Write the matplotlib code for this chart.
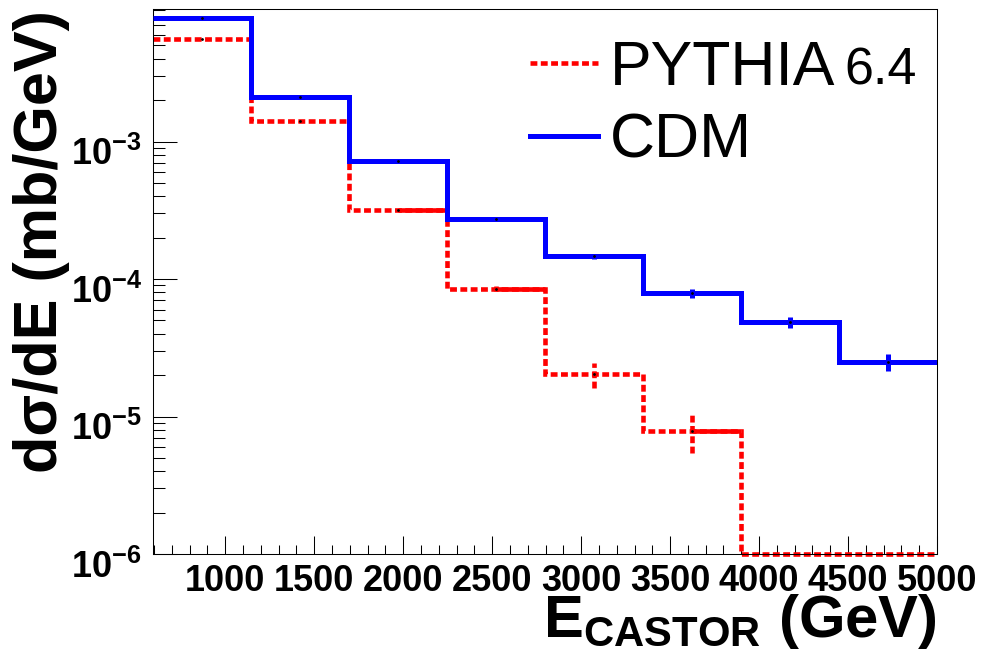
import numpy as np
import matplotlib
matplotlib.use('Agg')
import matplotlib.pyplot as plt
from matplotlib.ticker import MultipleLocator, LogLocator, FuncFormatter, NullFormatter
from matplotlib.transforms import ScaledTranslation

plt.rcParams['font.family'] = 'Liberation Sans'
plt.rcParams['mathtext.fontset'] = 'custom'
plt.rcParams['mathtext.rm'] = 'Liberation Sans'
plt.rcParams['mathtext.bf'] = 'Liberation Sans:bold'
plt.rcParams['mathtext.it'] = 'Liberation Sans:italic'

# energy bins (GeV) and dsigma/dE (mb/GeV) per bin
bin_edges = [594, 1145, 1695, 2246, 2797, 3348, 3898, 4449, 5000]
pythia = [5.56e-3, 1.40e-3, 3.19e-4, 8.48e-5, 2.03e-5, 7.82e-6, 0.0, 0.0]
pythia_err = [2.0e-5, 1.0e-5, 3.0e-6, 3.5e-6, 4.1e-6, 2.4e-6, 0.0, 0.0]
cdm = [7.90e-3, 2.10e-3, 7.24e-4, 2.75e-4, 1.46e-4, 7.88e-5, 4.85e-5, 2.48e-5]
cdm_err = [2.0e-5, 1.0e-5, 5.0e-6, 4.0e-6, 6.0e-6, 6.0e-6, 4.5e-6, 3.5e-6]

ymin, ymax = 1e-6, 9.2e-3
red_ls = (0, (1.5, 0.75))

edges = np.array(bin_edges, dtype=float)
centers = 0.5 * (edges[:-1] + edges[1:])
py = np.array(pythia)
py_e = np.array(pythia_err)
cd = np.array(cdm)
cd_e = np.array(cdm_err)

fig = plt.figure(figsize=(9.96, 6.53), dpi=100)
ax = fig.add_axes([0.1536, 0.1516, 0.7872, 0.8346])

# empty bins sit on the frame bottom
py_draw = np.where(py > 0, py, ymin)
ax.stairs(py_draw, edges, baseline=None, color='red', lw=3.3, ls=red_ls, clip_on=False, zorder=2)
filled = py > 0
ax.vlines(centers[filled], (py - py_e)[filled], (py + py_e)[filled], colors='red', lw=3.3,
          linestyles=red_ls, zorder=2)
half = [2, 3, 5]
ax.hlines(py[half], centers[half], edges[1:][half], colors='red', lw=3.3, zorder=2)
ax.plot(centers[filled], py[filled], ls='none', marker='.', ms=2, color='black', zorder=4)

ax.stairs(cd, edges, baseline=None, color='blue', lw=3.6, zorder=3, label='CDM')
ax.vlines(centers, cd - cd_e, cd + cd_e, colors='blue', lw=3.6, zorder=3)
ax.plot(centers, cd, ls='none', marker='.', ms=2, color='black', zorder=4)

ax.set_yscale('log')
ax.set_xlim(edges[0], edges[-1])
ax.set_ylim(ymin, ymax)

ax.xaxis.set_major_locator(MultipleLocator(500))
ax.xaxis.set_minor_locator(MultipleLocator(100))
ax.yaxis.set_major_locator(LogLocator(base=10, numticks=10))
ax.yaxis.set_minor_locator(LogLocator(base=10, subs=np.arange(2, 10), numticks=20))
ax.yaxis.set_minor_formatter(NullFormatter())
ax.yaxis.set_major_formatter(FuncFormatter(lambda v, p: r'$\mathbf{10^{%d}}$' % round(np.log10(v))))

ax.tick_params(axis='both', which='both', direction='in', top=False, right=False, width=0.75)
ax.tick_params(axis='x', which='major', length=13, pad=7, labelsize=26)
ax.tick_params(axis='x', which='minor', length=6.5)
ax.tick_params(axis='y', which='major', length=17, pad=8, labelsize=26)
ax.tick_params(axis='y', which='minor', length=8.5)
for lab in ax.get_xticklabels():
    lab.set_fontweight('bold')
shift = ScaledTranslation(0, -7 / 72, fig.dpi_scale_trans)
for lab in ax.get_yticklabels():
    lab.set_transform(lab.get_transform() + shift)
for sp in ax.spines.values():
    sp.set_linewidth(0.75)

ax.set_xlabel(r'$\mathbf{E_{CASTOR}}$ (GeV)', fontsize=43, fontweight='bold')
ax.xaxis.set_label_coords(1.0, -0.152)
ax.xaxis.label.set_ha('right')
ax.xaxis.label.set_va('baseline')

# rotation_mode is 'anchor' for the y label, so ha runs along the text
ax.set_ylabel('dσ/dE (mb/GeV)', fontsize=44, fontweight='bold')
ax.yaxis.set_label_coords(-0.1416, 0.998)
ax.yaxis.label.set_ha('right')
ax.yaxis.label.set_va('center')

handles = [plt.Line2D([], [], color='red', lw=3.3, ls=red_ls),
           plt.Line2D([], [], color='blue', lw=3.6)]
leg = ax.legend(handles, ['PYTHIA', 'CDM'], loc='upper left', bbox_to_anchor=(0.481, 0.945),
                frameon=False, fontsize=45, borderpad=0, borderaxespad=0,
                handlelength=1.09, handletextpad=0.19, labelspacing=0.22)
ax.annotate('6.4', xy=(1, 0), xycoords=leg.get_texts()[0], xytext=(6.5, 1.5),
            textcoords='offset points', fontsize=37.5, va='bottom', ha='left', zorder=6)

fig.savefig('out.png', dpi=100)
